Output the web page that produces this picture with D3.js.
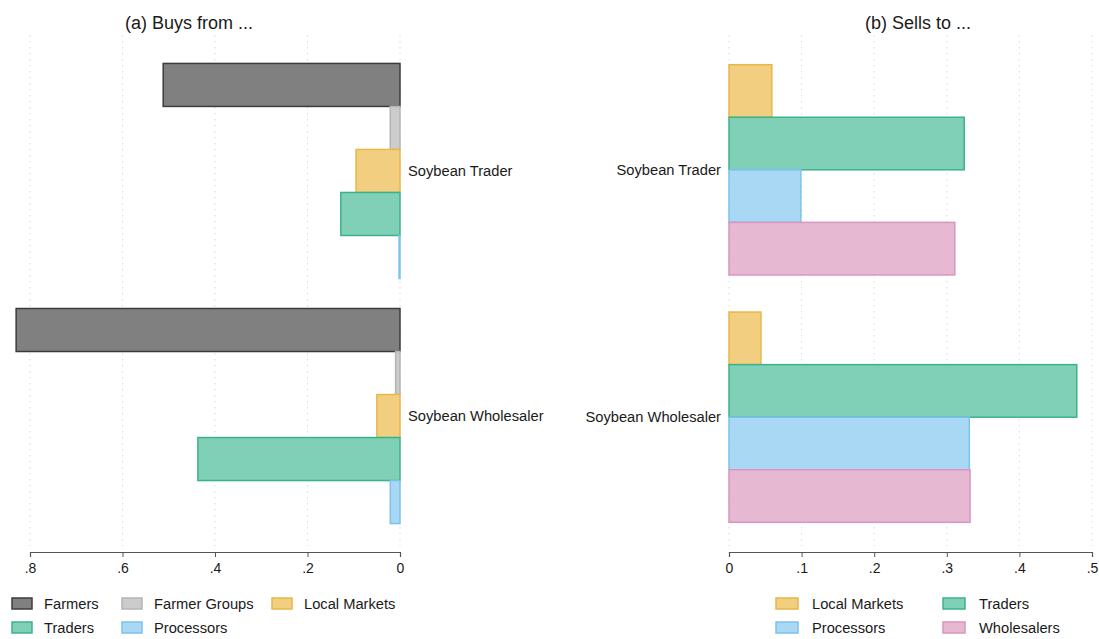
<!DOCTYPE html>
<html>
<head>
<meta charset="utf-8">
<script src="https://cdn.jsdelivr.net/npm/d3@7"></script>
<style>
body{margin:0;background:#fff;}
text{font-family:"Liberation Sans",Arial,sans-serif;fill:#1a1a1a;}
</style>
</head>
<body>
<div id="chart"></div>
<script>
// data
const groups = ["Soybean Trader", "Soybean Wholesaler"];
const buySeries = ["Farmers", "Farmer Groups", "Local Markets", "Traders", "Processors"];
const buyValues = [
  [0.512, 0.021, 0.095, 0.128, 0.002],
  [0.830, 0.0095, 0.050, 0.437, 0.021]
];
const sellSeries = ["Local Markets", "Traders", "Processors", "Wholesalers"];
const sellValues = [
  [0.059, 0.324, 0.099, 0.311],
  [0.044, 0.479, 0.331, 0.332]
];
const buyTicks = [0.8, 0.6, 0.4, 0.2, 0];
const sellTicks = [0, 0.1, 0.2, 0.3, 0.4, 0.5];

const colors = {
  "Farmers": ["#808080", "#3c3c3c"],
  "Farmer Groups": ["#cccccc", "#b4b4b4"],
  "Local Markets": ["#f2cf80", "#e9b648"],
  "Traders": ["#80d0b8", "#3bb38a"],
  "Processors": ["#a9d8f4", "#7cc2ec"],
  "Wholesalers": ["#e6b8d2", "#d996be"]
};

const W = 1099, H = 639;
const plotTop = 35, axisY = 552;

const svg = d3.select("#chart").append("svg")
  .attr("width", W).attr("height", H)
  .attr("viewBox", [0, 0, W, H]);

const fmt = d => d === 0 ? "0" : d3.format(".1f")(d).replace(/^0/, "");

function panel(opts){
  const x = d3.scaleLinear().domain([0, opts.max]).range(opts.xr);
  const y0 = d3.scaleBand().domain(groups).range([plotTop, axisY])
    .paddingInner(opts.pin).paddingOuter(opts.pout);
  const y1 = d3.scaleBand().domain(opts.series).range([0, y0.bandwidth()]);
  const g = svg.append("g");

  // dotted grid
  g.append("g").selectAll("line").data(opts.ticks).join("line")
    .attr("x1", d => x(d)).attr("x2", d => x(d))
    .attr("y1", plotTop).attr("y2", axisY - 6)
    .attr("stroke", "#d9d9d9").attr("stroke-dasharray", "1.5,4.5");

  // bars
  const gg = g.selectAll("g.grp").data(groups).join("g")
    .attr("class", "grp")
    .attr("transform", d => `translate(0,${y0(d)})`);
  gg.selectAll("rect").data((d, i) => opts.series.map((s, j) => ({s, v: opts.values[i][j]})))
    .join("rect")
    .attr("x", d => Math.min(x(0), x(d.v)))
    .attr("width", d => Math.abs(x(d.v) - x(0)))
    .attr("y", d => y1(d.s))
    .attr("height", y1.bandwidth())
    .attr("fill", d => colors[d.s][0])
    .attr("stroke", d => colors[d.s][1])
    .attr("stroke-width", 1.5);

  // group labels
  g.selectAll("text.lab").data(groups).join("text")
    .attr("class", "lab")
    .attr("x", opts.labX).attr("y", d => y0(d) + y0.bandwidth() / 2 + 5)
    .attr("text-anchor", opts.labAnchor)
    .style("font-size", "14.7px")
    .text(d => d);

  // axis
  const ax = g.append("g").attr("transform", `translate(0,${axisY})`)
    .call(d3.axisBottom(x).tickValues(opts.ticks).tickFormat(fmt).tickSize(5).tickPadding(6));
  ax.select(".domain").attr("stroke", "#555").attr("stroke-width", 1.2);
  ax.selectAll(".tick line").attr("stroke", "#555");
  ax.selectAll(".tick text").style("font-size", "14px").style("font-family", "'Liberation Sans',Arial,sans-serif").attr("fill", "#1a1a1a");

  // title
  g.append("text").attr("x", opts.titleX).attr("y", 29)
    .attr("text-anchor", "middle").style("font-size", "18px").text(opts.title);

  // legend
  const lg = g.append("g");
  opts.legend.forEach(it => {
    lg.append("rect").attr("x", it.x).attr("y", it.y - 6).attr("width", it.w).attr("height", 11)
      .attr("fill", colors[it.s][0]).attr("stroke", colors[it.s][1]).attr("stroke-width", 1.5);
    lg.append("text").attr("x", it.x + it.tx).attr("y", it.y + 5)
      .style("font-size", "14.7px").text(it.s);
  });
}

panel({
  series: buySeries, values: buyValues, max: 0.8, xr: [400, 30], ticks: buyTicks,
  pin: 0.1224, pout: 0.116, labX: 408, labAnchor: "start",
  title: "(a) Buys from ...", titleX: 189,
  legend: [
    {s: "Farmers", x: 12, y: 604, w: 20, tx: 32},
    {s: "Farmer Groups", x: 122, y: 604, w: 20, tx: 32},
    {s: "Local Markets", x: 272, y: 604, w: 20, tx: 32},
    {s: "Traders", x: 12, y: 628, w: 20, tx: 32},
    {s: "Processors", x: 122, y: 628, w: 20, tx: 32}
  ]
});

panel({
  series: sellSeries, values: sellValues, max: 0.5, xr: [729, 1092], ticks: sellTicks,
  pin: 0.15, pout: 0.12, labX: 721, labAnchor: "end",
  title: "(b) Sells to ...", titleX: 918,
  legend: [
    {s: "Local Markets", x: 776, y: 604, w: 22, tx: 36},
    {s: "Traders", x: 943, y: 604, w: 22, tx: 36},
    {s: "Processors", x: 776, y: 628, w: 22, tx: 36},
    {s: "Wholesalers", x: 943, y: 628, w: 22, tx: 36}
  ]
});
</script>
</body>
</html>
